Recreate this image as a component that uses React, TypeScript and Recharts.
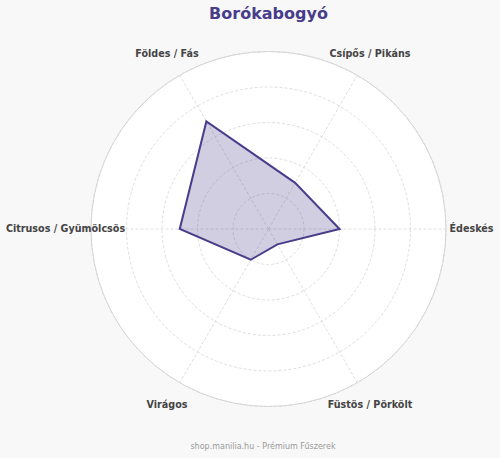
import {
  RadarChart,
  Radar,
  PolarGrid,
  PolarAngleAxis,
  PolarRadiusAxis,
} from "recharts";

// listed clockwise from the right-hand axis
const flavorAxes = [
  "Édeskés",
  "Füstös / Pörkölt",
  "Virágos",
  "Citrusos / Gyümölcsös",
  "Földes / Fás",
  "Csípős / Pikáns",
];
const flavorScores = [4, 1, 2, 5, 7, 3];
const radiusTicks = [0, 2, 4, 6, 8, 10];

const TITLE = "Borókabogyó";
const FOOTER = "shop.manilia.hu - Prémium Fűszerek";

const W = 500;
const H = 458;
const CX = 268.5;
const CY = 229;
const OUTER = 177.5;
const LABEL_R = 203;
const ACCENT = "#483d8b";
const FONT = "'DejaVu Sans', Verdana, sans-serif";

const data = flavorAxes.map((axis, i) => ({ axis, score: flavorScores[i] }));

function AngleTick(props: any) {
  const { x, y, payload } = props;
  const a = Math.atan2(y - CY, x - CX);
  const lx = CX + LABEL_R * Math.cos(a);
  const ly = CY + LABEL_R * Math.sin(a);
  return (
    <text
      x={lx}
      y={ly}
      dy="0.35em"
      textAnchor="middle"
      fontFamily={FONT}
      fontWeight="bold"
      fontSize={9.6}
      fill="#444"
    >
      {payload.value}
    </text>
  );
}

export default function App() {
  return (
    <div
      style={{
        position: "absolute",
        left: 0,
        top: 0,
        width: W,
        height: H,
        background: "#f8f8f9",
        overflow: "hidden",
      }}
    >
      {/* white disc behind the grid */}
      <div
        style={{
          position: "absolute",
          left: CX - OUTER,
          top: CY - OUTER,
          width: OUTER * 2,
          height: OUTER * 2,
          borderRadius: "50%",
          background: "#fff",
        }}
      />
      <div
        style={{
          position: "absolute",
          left: 0,
          top: 5.5,
          width: CX * 2,
          textAlign: "center",
          fontFamily: FONT,
          fontWeight: "bold",
          fontSize: 16,
          lineHeight: "16px",
          color: ACCENT,
        }}
      >
        {TITLE}
      </div>
      <div style={{ position: "absolute", left: 0, top: 0 }}>
        <RadarChart
          width={W}
          height={H}
          data={data}
          cx={CX}
          cy={CY}
          outerRadius={OUTER}
          startAngle={0}
          endAngle={-360}
          margin={{ top: 0, right: 0, bottom: 0, left: 0 }}
        >
          <PolarGrid
            gridType="circle"
            stroke="#dedede"
            strokeDasharray="3 2"
          />
          <PolarAngleAxis
            dataKey="axis"
            tick={<AngleTick />}
            tickLine={false}
            axisLineType="circle"
            axisLine={{ stroke: "#d6d6d6" }}
          />
          <PolarRadiusAxis
            domain={[0, 10]}
            ticks={radiusTicks as any}
            tick={false}
            axisLine={false}
          />
          <Radar
            dataKey="score"
            stroke={ACCENT}
            strokeWidth={2}
            fill={ACCENT}
            fillOpacity={0.25}
            dot={false}
            isAnimationActive={false}
          />
        </RadarChart>
      </div>
      <div
        style={{
          position: "absolute",
          left: 0,
          top: 443,
          width: 263 * 2,
          textAlign: "center",
          fontFamily: FONT,
          fontSize: 8,
          lineHeight: "8px",
          color: "#9a9a9a",
        }}
      >
        {FOOTER}
      </div>
    </div>
  );
}
